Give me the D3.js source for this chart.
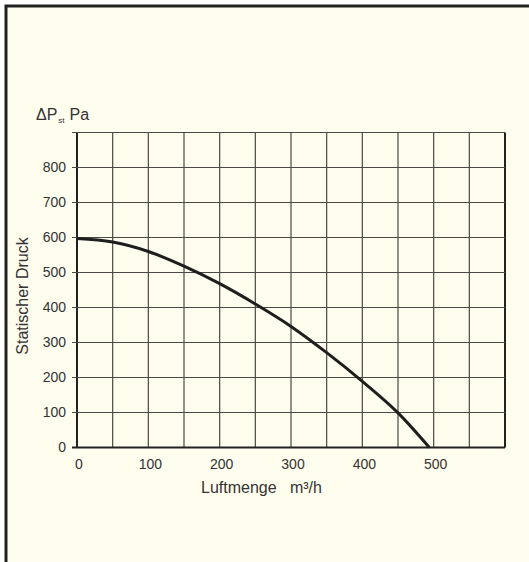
<!DOCTYPE html>
<html>
<head>
<meta charset="utf-8">
<script src="https://cdn.jsdelivr.net/npm/d3@7/dist/d3.min.js"></script>
<style>
body { margin: 0; background: #ffffff; }
text { font-family: "Liberation Sans", Arial, sans-serif; fill: #333; }
</style>
</head>
<body>
<section></section>
<script>
// Kennlinie (Luftmenge m3/h -> statischer Druck Pa)
var flow = [0, 50, 100, 150, 200, 250, 300, 350, 400, 450, 494];
var pressure = [597, 587, 560, 518, 468, 410, 346, 271, 189, 99, 0];

var x_ticks = [0, 100, 200, 300, 400, 500];
var y_ticks = [0, 100, 200, 300, 400, 500, 600, 700, 800];
var x_grid = [0, 50, 100, 150, 200, 250, 300, 350, 400, 450, 500, 550, 600];
var y_grid = [0, 100, 200, 300, 400, 500, 600, 700, 800, 900];

var margin = {top: 132.5, left: 77},
    width = 428,
    height = 315;

var svg = d3.select("section").append("svg")
    .attr("width", 529)
    .attr("height", 562);

// Rahmen
svg.append("rect")
    .attr("x", 6)
    .attr("y", 6)
    .attr("width", 560)
    .attr("height", 600)
    .attr("fill", "#fffdee")
    .attr("stroke", "#222")
    .attr("stroke-width", 3);

var x = d3.scaleLinear()
    .domain([0, 600])
    .range([0, width]);

var y = d3.scaleLinear()
    .domain([0, 900])
    .range([height, 0]);

var g = svg.append("g")
    .attr("transform", "translate(" + margin.left + "," + margin.top + ")");

g.append("g").selectAll(".vgrid")
    .data(x_grid)
    .enter().append("line")
    .attr("class", "vgrid")
    .attr("x1", function(d) {return x(d);})
    .attr("x2", function(d) {return x(d);})
    .attr("y1", 0)
    .attr("y2", height)
    .attr("stroke", function(d) {return (d == 0 || d == 600) ? "#222" : "#4a4a44";})
    .attr("stroke-width", function(d) {return (d == 0 || d == 600) ? 2 : 1.2;});

g.append("g").selectAll(".hgrid")
    .data(y_grid)
    .enter().append("line")
    .attr("class", "hgrid")
    .attr("x1", -5)
    .attr("x2", width)
    .attr("y1", function(d) {return y(d);})
    .attr("y2", function(d) {return y(d);})
    .attr("stroke", function(d) {return d == 0 ? "#222" : "#4a4a44";})
    .attr("stroke-width", function(d) {return d == 0 ? 2 : 1.2;});

// Achsenbeschriftung
g.append("g").selectAll(".ylab")
    .data(y_ticks)
    .enter().append("text")
    .attr("class", "ylab")
    .attr("x", -11)
    .attr("y", function(d) {return y(d);})
    .attr("dy", "0.35em")
    .attr("text-anchor", "end")
    .attr("font-size", 14)
    .text(function(d) {return d;});

g.append("g").selectAll(".xlab")
    .data(x_ticks)
    .enter().append("text")
    .attr("class", "xlab")
    .attr("x", function(d) {return x(d) + 2;})
    .attr("y", height + 21)
    .attr("text-anchor", "middle")
    .attr("font-size", 14)
    .text(function(d) {return d;});

var line = d3.line()
    .x(function(d) {return x(d[0]);})
    .y(function(d) {return y(d[1]);})
    .curve(d3.curveMonotoneX);

g.append("path")
    .datum(d3.zip(flow, pressure))
    .attr("d", line)
    .attr("fill", "none")
    .attr("stroke", "#1e1e1e")
    .attr("stroke-width", 3);

svg.append("text")
    .attr("x", 201)
    .attr("y", 493)
    .attr("font-size", 16)
    .attr("xml:space", "preserve")
    .text("Luftmenge   m\u00b3/h");

svg.append("text")
    .attr("transform", "translate(28,296) rotate(-90)")
    .attr("text-anchor", "middle")
    .attr("font-size", 16)
    .text("Statischer Druck");

var dp = svg.append("text")
    .attr("x", 36)
    .attr("y", 120)
    .attr("font-size", 16);
dp.append("tspan").text("\u0394P");
dp.append("tspan").attr("font-size", 8).attr("dy", 3).attr("dx", 1).text("st");
dp.append("tspan").attr("dy", -3).attr("dx", 5).text("Pa");
</script>
</body>
</html>
